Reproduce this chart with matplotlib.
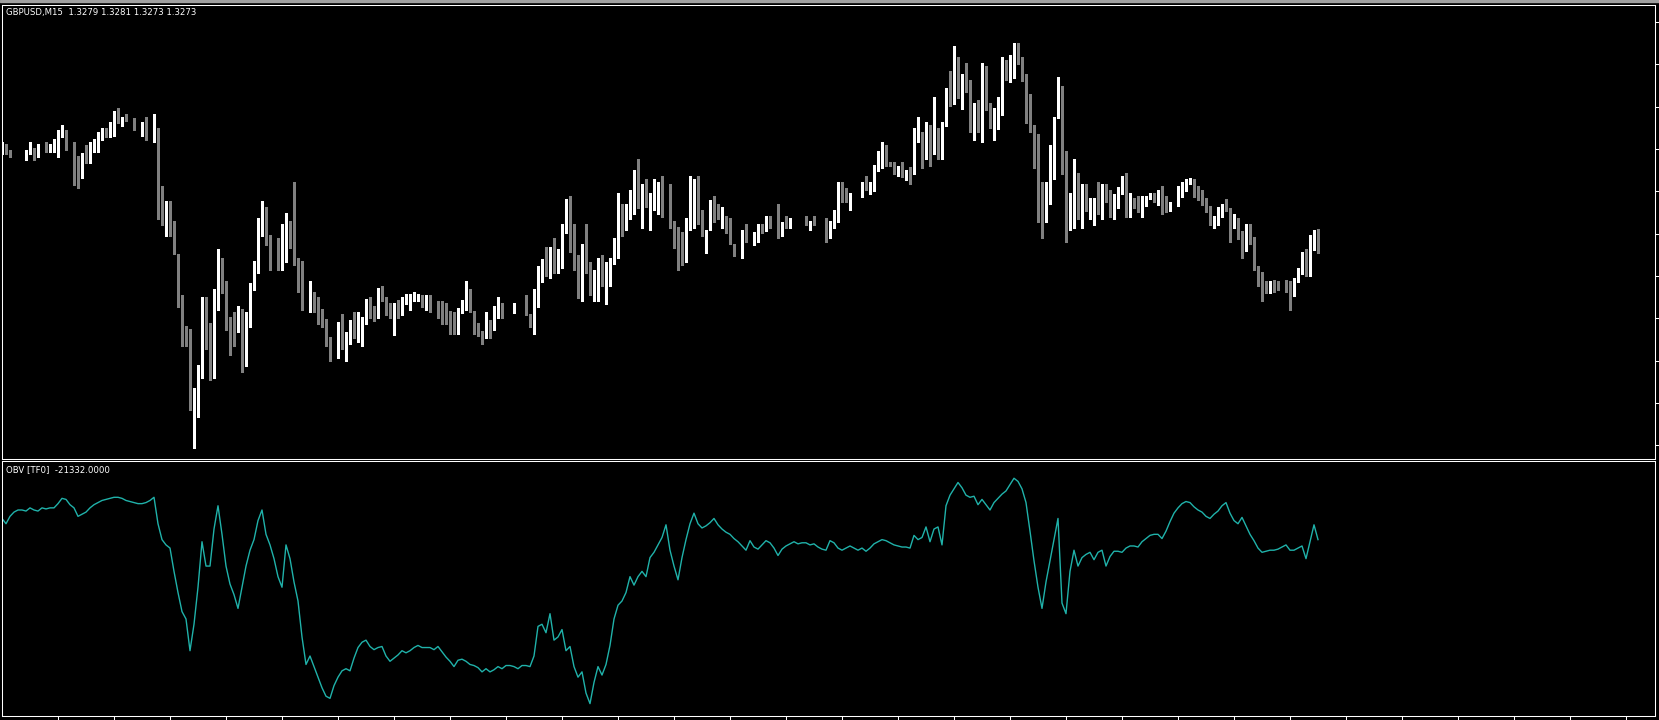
import numpy as np
import matplotlib
matplotlib.use("Agg")
import matplotlib.pyplot as plt
from matplotlib.patches import Rectangle

nan = float("nan")

# GBPUSD M15 candles (nan = doji bars drawn in the invisible line colour)
opens = [
    1.33068, 1.33090, 1.33070, nan, nan, nan, 1.33060, 1.33061, 1.33079, 1.33050,
    nan, 1.33090, 1.33068, 1.33077, 1.33098, 1.33124, 1.33137, nan, 1.33099, 1.33024,
    1.32984, 1.33065, 1.33031, 1.33077, 1.33077, 1.33108, 1.33146, 1.33118, 1.33124, 1.33184,
    1.33164, 1.33184, nan, 1.33177, nan, 1.33124, 1.33146, nan, 1.33108, 1.33120,
    1.32950, 1.32844, 1.32864, 1.32800, 1.32724, 1.32574, 1.32477, 1.32460, 1.32221, 1.32257,
    1.32324, 1.32554, 1.32424, 1.32421, 1.32571, 1.32713, 1.32621, 1.32507, 1.32487, 1.32468,
    1.32507, 1.32355, 1.32531, 1.32628, 1.32674, 1.32788, 1.32837, 1.32770, nan, 1.32694,
    1.32690, 1.32768, 1.32807, 1.32790, 1.32713, 1.32629, nan, 1.32551, 1.32574, 1.32563,
    1.32507, 1.32507, 1.32440, nan, 1.32390, 1.32487, 1.32410, 1.32428, 1.32507, 1.32437,
    1.32475, 1.32495, 1.32563, 1.32535, 1.32515, 1.32601, 1.32571, 1.32554, 1.32505, 1.32565,
    1.32551, 1.32563, 1.32571, 1.32579, 1.32581, 1.32584, 1.32551, 1.32584, nan, 1.32563,
    1.32554, 1.32535, 1.32535, 1.32526, 1.32485, 1.32533, 1.32571, 1.32601, 1.32535, 1.32487,
    1.32450, 1.32448, 1.32497, 1.32484, 1.32533, 1.32563, nan, nan, 1.32533, nan,
    nan, 1.32563, 1.32526, 1.32495, 1.32608, 1.32644, 1.32713, 1.32684, 1.32744, 1.32684,
    1.32684, 1.32804, 1.32864, 1.32826, 1.32694, 1.32599, 1.32744, 1.32666, 1.32619, 1.32655,
    1.32694, 1.32635, 1.32664, 1.32710, 1.32748, 1.32884, 1.32815, 1.32850, 1.32861, 1.32977,
    1.32893, 1.32940, 1.32901, 1.32901, 1.32919, 1.32959, nan, 1.32930, 1.32828, 1.32790,
    1.32750, 1.32748, 1.32815, 1.32873, 1.32919, 1.32848, 1.32788, 1.32815, 1.32910, 1.32864,
    1.32835, 1.32848, 1.32837, 1.32759, nan, 1.32721, 1.32781, nan, 1.32768, 1.32797,
    1.32817, 1.32806, 1.32853, nan, 1.32864, 1.32804, 1.32826, 1.32824, nan, nan,
    nan, 1.32853, 1.32824, 1.32848, nan, nan, 1.32837, 1.32797, 1.32824, 1.32873,
    1.32950, 1.32940, 1.32908, nan, nan, 1.32918, 1.32977, 1.32939, 1.32939, 1.33006,
    1.33021, 1.33081, 1.33035, 1.33015, 1.32995, 1.32997, 1.32975, 1.33015, 1.33004, 1.33108,
    1.33128, 1.33118, 1.33137, 1.33068, 1.33119, 1.33099, 1.33164, 1.33281, 1.33257, 1.33355,
    1.33268, 1.33306, 1.33306, 1.33144, 1.33224, 1.33155, 1.33344, 1.33204, 1.33144, 1.33164,
    1.33228, 1.33355, 1.33304, 1.33350, 1.33421, 1.33384, 1.33317, 1.33259, 1.33137, 1.33070,
    1.32864, 1.32844, 1.32901, 1.33044, 1.33181, 1.33281, 1.33044, 1.32861, 1.32870, 1.32997,
    1.32861, 1.32959, 1.32881, 1.32890, 1.32919, 1.32881, 1.32959, 1.32930, 1.32861, 1.32928,
    1.32928, 1.32959, 1.32870, 1.32910, 1.32893, 1.32861, 1.32890, 1.32917, 1.32919, 1.32908,
    1.32950, 1.32919, 1.32881, nan, 1.32890, 1.32937, 1.32946, 1.32964, 1.32968, 1.32950,
    1.32930, 1.32910, 1.32884, 1.32824, 1.32833, 1.32861, 1.32893, 1.32873, 1.32835, 1.32837,
    1.32801, 1.32740, 1.32801, 1.32781, 1.32686, 1.32666, 1.32619, 1.32599, 1.32637, 1.32630,
    nan, 1.32637, 1.32619, 1.32599, 1.32635, 1.32664, 1.32724, 1.32675, 1.32788, 1.32790,
]
highs = [
    1.33099, 1.33095, 1.33074, nan, nan, nan, 1.33074, 1.33099, 1.33081, 1.33093,
    nan, 1.33099, 1.33093, 1.33110, 1.33139, 1.33157, 1.33139, nan, 1.33101, 1.33055,
    1.33063, 1.33090, 1.33099, 1.33110, 1.33135, 1.33146, 1.33148, 1.33166, 1.33204, 1.33213,
    1.33184, 1.33193, nan, 1.33181, nan, 1.33166, 1.33184, nan, 1.33194, 1.33146,
    1.32953, 1.32904, 1.32904, 1.32837, 1.32726, 1.32590, 1.32488, 1.32477, 1.32279, 1.32357,
    1.32584, 1.32584, 1.32497, 1.32610, 1.32744, 1.32715, 1.32637, 1.32518, 1.32535, 1.32554,
    1.32544, 1.32535, 1.32630, 1.32704, 1.32848, 1.32904, 1.32884, 1.32790, nan, 1.32781,
    1.32826, 1.32864, 1.32837, 1.32968, 1.32715, 1.32704, nan, 1.32637, 1.32599, 1.32584,
    1.32544, 1.32509, 1.32450, nan, 1.32499, 1.32526, 1.32468, 1.32507, 1.32535, 1.32535,
    1.32516, 1.32576, 1.32584, 1.32554, 1.32613, 1.32619, 1.32584, 1.32563, 1.32563, 1.32574,
    1.32584, 1.32593, 1.32593, 1.32601, 1.32593, 1.32590, 1.32590, 1.32590, nan, 1.32570,
    1.32571, 1.32563, 1.32537, 1.32535, 1.32546, 1.32574, 1.32637, 1.32610, 1.32537, 1.32497,
    1.32470, 1.32535, 1.32507, 1.32554, 1.32584, 1.32565, nan, nan, 1.32563, nan,
    nan, 1.32590, 1.32528, 1.32610, 1.32688, 1.32710, 1.32750, 1.32750, 1.32779, 1.32744,
    1.32826, 1.32910, 1.32919, 1.32828, 1.32724, 1.32759, 1.32826, 1.32701, 1.32674, 1.32713,
    1.32724, 1.32701, 1.32713, 1.32779, 1.32930, 1.32893, 1.32893, 1.32940, 1.33007, 1.33044,
    1.32959, 1.32977, 1.32930, 1.32977, 1.32968, 1.32986, nan, 1.32961, 1.32837, 1.32817,
    1.32801, 1.32848, 1.32988, 1.32977, 1.32988, 1.32875, 1.32808, 1.32906, 1.32919, 1.32893,
    1.32884, 1.32853, 1.32846, 1.32759, nan, 1.32806, 1.32826, nan, 1.32799, 1.32826,
    1.32826, 1.32853, 1.32853, nan, 1.32893, 1.32835, 1.32853, 1.32846, nan, nan,
    nan, 1.32853, 1.32837, 1.32853, nan, nan, 1.32846, 1.32837, 1.32873, 1.32968,
    1.32968, 1.32946, 1.32930, nan, nan, 1.32968, 1.32986, 1.32968, 1.33024, 1.33070,
    1.33099, 1.33090, 1.33035, 1.33033, 1.33021, 1.33033, 1.33008, 1.33017, 1.33146, 1.33184,
    1.33135, 1.33166, 1.33157, 1.33250, 1.33146, 1.33166, 1.33281, 1.33337, 1.33421, 1.33384,
    1.33326, 1.33364, 1.33308, 1.33230, 1.33239, 1.33364, 1.33353, 1.33230, 1.33213, 1.33250,
    1.33384, 1.33373, 1.33390, 1.33430, 1.33430, 1.33384, 1.33326, 1.33259, 1.33157, 1.33126,
    1.32968, 1.32968, 1.33090, 1.33184, 1.33317, 1.33288, 1.33070, 1.32930, 1.33044, 1.32997,
    1.32959, 1.32959, 1.32913, 1.32913, 1.32968, 1.32959, 1.32961, 1.32939, 1.32928, 1.32950,
    1.32988, 1.32997, 1.32930, 1.32913, 1.32919, 1.32919, 1.32919, 1.32930, 1.32930, 1.32941,
    1.32953, 1.32921, 1.32901, nan, 1.32953, 1.32968, 1.32977, 1.32979, 1.32977, 1.32953,
    1.32939, 1.32913, 1.32886, 1.32853, 1.32884, 1.32893, 1.32910, 1.32881, 1.32861, 1.32846,
    1.32804, 1.32826, 1.32826, 1.32784, 1.32688, 1.32668, 1.32637, 1.32637, 1.32639, 1.32637,
    nan, 1.32639, 1.32637, 1.32648, 1.32679, 1.32735, 1.32744, 1.32790, 1.32808, 1.32810,
]
lows = [
    1.33061, 1.33059, 1.33050, nan, nan, nan, 1.33040, 1.33059, 1.33040, 1.33049,
    nan, 1.33068, 1.33066, 1.33068, 1.33050, 1.33118, 1.33075, nan, 1.32957, 1.32948,
    1.32981, 1.33031, 1.33029, 1.33068, 1.33068, 1.33106, 1.33117, 1.33117, 1.33121, 1.33164,
    1.33155, 1.33171, nan, 1.33141, nan, 1.33121, 1.33106, nan, 1.33099, 1.32844,
    1.32824, 1.32788, 1.32788, 1.32728, 1.32551, 1.32421, 1.32421, 1.32208, 1.32081, 1.32185,
    1.32315, 1.32410, 1.32308, 1.32315, 1.32540, 1.32598, 1.32475, 1.32390, 1.32421, 1.32466,
    1.32335, 1.32353, 1.32485, 1.32607, 1.32665, 1.32786, 1.32757, 1.32675, nan, 1.32675,
    1.32675, 1.32701, 1.32748, 1.32690, 1.32599, 1.32541, nan, 1.32533, 1.32533, 1.32493,
    1.32485, 1.32421, 1.32369, nan, 1.32379, 1.32410, 1.32371, 1.32426, 1.32446, 1.32435,
    1.32421, 1.32493, 1.32515, 1.32503, 1.32513, 1.32571, 1.32524, 1.32515, 1.32457, 1.32515,
    1.32524, 1.32560, 1.32541, 1.32571, 1.32571, 1.32551, 1.32541, 1.32535, nan, 1.32515,
    1.32495, 1.32495, 1.32459, 1.32459, 1.32459, 1.32530, 1.32541, 1.32533, 1.32459, 1.32455,
    1.32428, 1.32446, 1.32448, 1.32475, 1.32515, 1.32515, nan, nan, 1.32530, nan,
    nan, 1.32524, 1.32485, 1.32459, 1.32551, 1.32635, 1.32655, 1.32646, 1.32664, 1.32664,
    1.32681, 1.32797, 1.32733, 1.32674, 1.32581, 1.32571, 1.32665, 1.32590, 1.32571, 1.32571,
    1.32619, 1.32561, 1.32619, 1.32693, 1.32713, 1.32788, 1.32806, 1.32844, 1.32859, 1.32881,
    1.32815, 1.32884, 1.32806, 1.32873, 1.32861, 1.32850, nan, 1.32813, 1.32748, 1.32674,
    1.32690, 1.32701, 1.32806, 1.32815, 1.32826, 1.32788, 1.32730, 1.32806, 1.32835, 1.32844,
    1.32815, 1.32797, 1.32759, 1.32721, nan, 1.32713, 1.32768, nan, 1.32757, 1.32768,
    1.32797, 1.32804, 1.32815, nan, 1.32779, 1.32788, 1.32815, 1.32815, nan, nan,
    nan, 1.32824, 1.32806, 1.32824, nan, nan, 1.32768, 1.32779, 1.32815, 1.32835,
    1.32901, 1.32901, 1.32873, nan, nan, 1.32917, 1.32939, 1.32928, 1.32937, 1.33004,
    1.33013, 1.33019, 1.33019, 1.32995, 1.32986, 1.32984, 1.32973, 1.32959, 1.32995, 1.33099,
    1.33013, 1.33044, 1.33021, 1.33061, 1.33044, 1.33044, 1.33155, 1.33221, 1.33228, 1.33246,
    1.33210, 1.33268, 1.33133, 1.33108, 1.33135, 1.33099, 1.33208, 1.33146, 1.33108, 1.33144,
    1.33190, 1.33306, 1.33301, 1.33315, 1.33361, 1.33304, 1.33164, 1.33135, 1.33013, 1.32835,
    1.32779, 1.32835, 1.32893, 1.32977, 1.33179, 1.32995, 1.32768, 1.32806, 1.32815, 1.32844,
    1.32815, 1.32870, 1.32844, 1.32824, 1.32861, 1.32844, 1.32901, 1.32850, 1.32844, 1.32881,
    1.32926, 1.32850, 1.32850, 1.32881, 1.32868, 1.32850, 1.32888, 1.32910, 1.32899, 1.32890,
    1.32861, 1.32868, 1.32870, nan, 1.32888, 1.32917, 1.32937, 1.32961, 1.32917, 1.32908,
    1.32890, 1.32868, 1.32824, 1.32815, 1.32824, 1.32850, 1.32870, 1.32768, 1.32815, 1.32777,
    1.32713, 1.32738, 1.32759, 1.32675, 1.32619, 1.32571, 1.32597, 1.32597, 1.32599, 1.32608,
    nan, 1.32599, 1.32540, 1.32588, 1.32633, 1.32661, 1.32655, 1.32655, 1.32741, 1.32730,
]
closes = [
    1.33081, 1.33061, 1.33060, nan, nan, nan, 1.33070, 1.33090, 1.33060, 1.33090,
    nan, 1.33077, 1.33090, 1.33090, 1.33137, 1.33146, 1.33077, nan, 1.33031, 1.32995,
    1.33055, 1.33040, 1.33070, 1.33090, 1.33121, 1.33137, 1.33124, 1.33137, 1.33194, 1.33174,
    1.33177, 1.33174, nan, 1.33144, nan, 1.33157, 1.33108, nan, 1.33127, 1.32957,
    1.32850, 1.32854, 1.32804, 1.32730, 1.32561, 1.32468, 1.32468, 1.32210, 1.32255, 1.32337,
    1.32544, 1.32413, 1.32410, 1.32584, 1.32704, 1.32628, 1.32515, 1.32494, 1.32457, 1.32496,
    1.32346, 1.32526, 1.32621, 1.32688, 1.32801, 1.32848, 1.32779, 1.32713, nan, 1.32684,
    1.32781, 1.32817, 1.32777, 1.32721, 1.32635, 1.32571, nan, 1.32584, 1.32551, 1.32495,
    1.32495, 1.32448, 1.32371, nan, 1.32497, 1.32421, 1.32440, 1.32497, 1.32448, 1.32487,
    1.32507, 1.32574, 1.32524, 1.32505, 1.32610, 1.32579, 1.32541, 1.32524, 1.32554, 1.32539,
    1.32574, 1.32584, 1.32590, 1.32590, 1.32590, 1.32563, 1.32574, 1.32541, nan, 1.32541,
    1.32524, 1.32524, 1.32515, 1.32475, 1.32544, 1.32563, 1.32610, 1.32544, 1.32475, 1.32457,
    1.32437, 1.32507, 1.32475, 1.32544, 1.32574, 1.32524, nan, nan, 1.32554, nan,
    nan, 1.32533, 1.32505, 1.32601, 1.32637, 1.32704, 1.32690, 1.32733, 1.32690, 1.32694,
    1.32817, 1.32874, 1.32835, 1.32684, 1.32608, 1.32733, 1.32674, 1.32628, 1.32666, 1.32704,
    1.32628, 1.32675, 1.32704, 1.32759, 1.32894, 1.32824, 1.32848, 1.32874, 1.32968, 1.32901,
    1.32950, 1.32893, 1.32910, 1.32910, 1.32950, 1.32928, nan, 1.32815, 1.32779, 1.32740,
    1.32740, 1.32828, 1.32884, 1.32930, 1.32835, 1.32797, 1.32808, 1.32904, 1.32873, 1.32844,
    1.32853, 1.32826, 1.32768, 1.32740, nan, 1.32790, 1.32768, nan, 1.32790, 1.32826,
    1.32797, 1.32848, 1.32844, nan, 1.32797, 1.32817, 1.32815, 1.32837, nan, nan,
    nan, 1.32835, 1.32837, 1.32824, nan, nan, 1.32788, 1.32837, 1.32864, 1.32961,
    1.32928, 1.32918, 1.32930, nan, nan, 1.32968, 1.32950, 1.32950, 1.33015, 1.33035,
    1.33090, 1.33021, 1.33021, 1.33004, 1.33008, 1.32986, 1.33007, 1.32995, 1.33101, 1.33137,
    1.33108, 1.33148, 1.33061, 1.33110, 1.33088, 1.33157, 1.33270, 1.33268, 1.33364, 1.33277,
    1.33317, 1.33295, 1.33135, 1.33215, 1.33164, 1.33337, 1.33210, 1.33155, 1.33157, 1.33241,
    1.33344, 1.33315, 1.33346, 1.33410, 1.33388, 1.33324, 1.33248, 1.33144, 1.33077, 1.32870,
    1.32850, 1.32910, 1.33035, 1.33177, 1.33288, 1.33050, 1.32870, 1.32884, 1.32986, 1.32850,
    1.32950, 1.32870, 1.32901, 1.32910, 1.32870, 1.32950, 1.32937, 1.32870, 1.32919, 1.32941,
    1.32950, 1.32861, 1.32904, 1.32901, 1.32870, 1.32904, 1.32910, 1.32928, 1.32901, 1.32939,
    1.32908, 1.32870, 1.32893, nan, 1.32950, 1.32959, 1.32975, 1.32977, 1.32937, 1.32917,
    1.32901, 1.32870, 1.32833, 1.32848, 1.32875, 1.32884, 1.32881, 1.32824, 1.32848, 1.32806,
    1.32730, 1.32808, 1.32788, 1.32690, 1.32655, 1.32628, 1.32607, 1.32630, 1.32619, 1.32617,
    nan, 1.32628, 1.32588, 1.32646, 1.32677, 1.32733, 1.32684, 1.32779, 1.32799, 1.32730,
]

# On Balance Volume, one value per bar
obv = [
    -19332, -19832, -19132, -18732, -18532, -18532, -18632, -18332, -18532, -18632,
    -18332, -18432, -18332, -18332, -17932, -17432, -17532, -18032, -18332, -19132,
    -18932, -18732, -18332, -18032, -17832, -17632, -17532, -17432, -17332, -17332,
    -17432, -17632, -17732, -17832, -17932, -17932, -17832, -17632, -17332, -19832,
    -21332, -21832, -22132, -24332, -26332, -28132, -28832, -31832, -29332, -25832,
    -21532, -23832, -23832, -20332, -18132, -20832, -23832, -25532, -26532, -27832,
    -25832, -23832, -22332, -21332, -19532, -18532, -20832, -21832, -23132, -24832,
    -25832, -21832, -23132, -25332, -27132, -30532, -33132, -32332, -33332, -34332,
    -35332, -36132, -36332, -35132, -34332, -33732, -33532, -33732, -32532, -31532,
    -31032, -30832, -31432, -31732, -31532, -31432, -32332, -32832, -32532, -32232,
    -31832, -32032, -31832, -31532, -31332, -31532, -31532, -31532, -31732, -31432,
    -31932, -32432, -32832, -33332, -32732, -32632, -32832, -33132, -33232, -33432,
    -33832, -33532, -33832, -33632, -33332, -33532, -33232, -33232, -33332, -33532,
    -33232, -33232, -33332, -32332, -29532, -29332, -30132, -28332, -30832, -30532,
    -29832, -31832, -31432, -33332, -34332, -33832, -35832, -36832, -34832, -33332,
    -34132, -33132, -31332, -28832, -27532, -27132, -26332, -24832, -25632, -24832,
    -24332, -24832, -23032, -22532, -21832, -21132, -19932, -22332, -23832, -25132,
    -23032, -21332, -19832, -18832, -19832, -20232, -20032, -19732, -19332, -19932,
    -20332, -20632, -20832, -21232, -21532, -21932, -22332, -21432, -22032, -22232,
    -21832, -21432, -21632, -22132, -22832, -22232, -21932, -21732, -21532, -21732,
    -21632, -21632, -21832, -21732, -22032, -22232, -22332, -21432, -21632, -22132,
    -22332, -22132, -21932, -22132, -22332, -22132, -22432, -22132, -21732, -21532,
    -21332, -21432, -21632, -21832, -21932, -22032, -22032, -22132, -20932, -21332,
    -21132, -20132, -21532, -20332, -20132, -21832, -18132, -17132, -16532, -15932,
    -16432, -17132, -17332, -17232, -18032, -17532, -18032, -18532, -17832, -17432,
    -17032, -16732, -16132, -15532, -15832, -16532, -17832, -20532, -23332, -25832,
    -27832, -25332, -23332, -21332, -19332, -27332, -28332, -24332, -22332, -23832,
    -23032, -22732, -22532, -23232, -22532, -22332, -23832, -22932, -22432, -22432,
    -22532, -22132, -21932, -21932, -22032, -21532, -21232, -20932, -20832, -20832,
    -21232, -20532, -19632, -18832, -18332, -17932, -17732, -17832, -18232, -18532,
    -18732, -19132, -19332, -18932, -18632, -18132, -17832, -18832, -19532, -19832,
    -19232, -20032, -20832, -21432, -22132, -22532, -22432, -22332, -22332, -22232,
    -22032, -21832, -22332, -22332, -22132, -21932, -23132, -21532, -19932, -21332,
]

price_ticks = [1.32090, 1.32231, 1.32372, 1.32513, 1.32654, 1.32795,
               1.32936, 1.33077, 1.33218, 1.33359, 1.33500]
time_ticks = list(range(14, 414, 14))

BULL = "#ffffff"
BEAR = "#808080"
OBV_COLOR = "#20b2aa"
W, H = 1659, 720


def panel(fig, left, top, right, bottom):
    """axes placed by pixel edges"""
    ax = fig.add_axes([left / W, 1 - bottom / H, (right - left) / W, (bottom - top) / H])
    ax.set_facecolor("black")
    for s in ax.spines.values():
        s.set_color("white")
        s.set_linewidth(0.75)
    return ax


def desenhar_velas(ax):
    o = np.array(opens)
    h = np.array(highs)
    l = np.array(lows)
    c = np.array(closes)
    x = np.arange(len(c))
    alta = c >= o
    baixa = c < o
    for mask, cor in [(alta, BULL), (baixa, BEAR)]:
        ax.vlines(x[mask], l[mask], h[mask], color=cor, linewidth=0.75, antialiased=False)
        ax.bar(x[mask], np.abs(c[mask] - o[mask]), bottom=np.minimum(o[mask], c[mask]),
               width=0.75, color=cor, linewidth=0, antialiased=False)


fig = plt.figure(figsize=(W / 100, H / 100), dpi=100, facecolor="black")
fig.patches.append(Rectangle((0, 1 - 1.5 / H), 1, 1.5 / H, transform=fig.transFigure,
                             color="#a0a0a0"))

ax1 = panel(fig, 1.5, 5, 1655, 459)
desenhar_velas(ax1)
ax1.set_xlim(-0.125, 413.25)
ax1.set_ylim(1.320437, 1.335570)
ax1.yaxis.tick_right()
ax1.set_yticks(price_ticks)
ax1.set_xticks([])
ax1.tick_params(axis="y", direction="out", length=3, width=0.75, color="white",
                labelright=False, labelleft=False)
ax1.text(4.5 / 1653.5, 1 - 8 / 454, "GBPUSD,M15  1.3279 1.3281 1.3273 1.3273",
         transform=ax1.transAxes, color="white", fontsize=6.8, va="center", ha="left",
         family="DejaVu Sans", fontstretch="condensed")

ax2 = panel(fig, 1.5, 461, 1655, 716)
ax2.plot(np.arange(len(obv)), obv, color=OBV_COLOR, linewidth=1.0)
ax2.set_xlim(-0.125, 413.25)
ax2.set_ylim(-38002, -13902)
ax2.set_yticks([])
ax2.set_xticks(time_ticks)
ax2.tick_params(axis="x", direction="out", length=4, width=0.75, color="white",
                labelbottom=False)
ax2.text(4.5 / 1653.5, 1 - 9 / 255, "OBV [TF0]  -21332.0000",
         transform=ax2.transAxes, color="white", fontsize=6.8, va="center", ha="left",
         family="DejaVu Sans", fontstretch="condensed")

fig.savefig("out.png", dpi=100, facecolor="black")
